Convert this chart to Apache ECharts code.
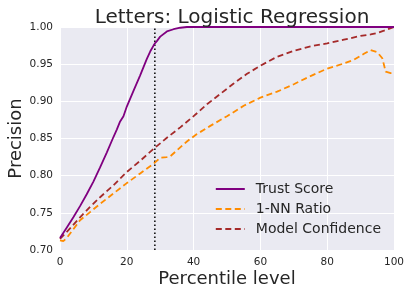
<!DOCTYPE html>
<html><head><meta charset="utf-8">
<script src="https://cdn.jsdelivr.net/npm/echarts@6/dist/echarts.min.js"></script>
<style>html,body{margin:0;padding:0;background:#fff}#c{width:410px;height:297px}</style>
</head><body><div id="c"></div>
<script>
const trustX = [0,2,4,6,8,10,12,14,16,17,18,19,20,22,24,26,27,28,28.4,29,30,32,34,36,38,40,60,80,100];
const trustY = [0.716,0.730,0.744,0.759,0.775,0.792,0.811,0.831,0.852,0.862,0.873,0.880,0.893,0.914,0.935,0.957,0.967,0.975,0.978,0.981,0.987,0.994,0.997,0.999,1.0,1.0,1.0,1.0,1.0];
const nnX = [0,1,2,4,6,9,12,16,20,24,28,30,32,33,35,38,41,45,50,55,60,65,70,75,80,85,88,91,93,95,96.5,97.5,99,100];
const nnY = [0.713,0.712,0.716,0.728,0.740,0.751,0.762,0.776,0.790,0.803,0.816,0.824,0.825,0.826,0.834,0.846,0.856,0.867,0.880,0.894,0.905,0.913,0.923,0.934,0.944,0.951,0.956,0.964,0.969,0.966,0.958,0.940,0.938,0.938];
const mcX = [0,3,6,9,12,16,20,24,28,32,36,40,44,48,52,56,60,65,70,75,80,85,90,93,95,97,100];
const mcY = [0.715,0.729,0.744,0.758,0.771,0.787,0.805,0.820,0.836,0.851,0.865,0.880,0.896,0.910,0.924,0.937,0.948,0.960,0.968,0.974,0.978,0.983,0.988,0.990,0.992,0.995,1.0];
const cutoffX = [28.4, 28.4];
const cutoffY = [0.70, 1.00];
const xTicks = [0,20,40,60,80,100];
const yTicks = [0.70,0.75,0.80,0.85,0.90,0.95,1.00];
const names = ['Trust Score','1-NN Ratio','Model Confidence'];

const zip = (a,b) => a.map((v,i)=>[v,b[i]]);
const font = 'DejaVu Sans';
const chart = echarts.init(document.getElementById('c'));
chart.setOption({
  animation:false,
  backgroundColor:'#fff',
  title:{text:'Letters: Logistic Regression',left:227,top:3,textAlign:'center',
    textStyle:{fontFamily:font,fontSize:20,fontWeight:'normal',color:'#262626'}},
  grid:{left:60,right:16,top:27,bottom:47,show:true,backgroundColor:'#eaeaf2',borderWidth:0,
    containLabel:false,outerBoundsMode:'none'},
  xAxis:{type:'value',min:0,max:100,interval:20,
    name:'Percentile level',nameLocation:'middle',nameGap:20,nameMoveOverlap:false,
    nameTextStyle:{fontFamily:font,fontSize:18,color:'#262626'},
    axisLine:{show:false},axisTick:{show:false},
    axisLabel:{fontFamily:font,fontSize:10.5,color:'#262626',margin:7},
    splitLine:{lineStyle:{color:'#fff',width:1}}},
  yAxis:{type:'value',min:0.70,max:1.00,interval:0.05,
    name:'Precision',nameLocation:'middle',nameGap:35,nameMoveOverlap:false,
    nameTextStyle:{fontFamily:font,fontSize:18,color:'#262626'},
    axisLine:{show:false},axisTick:{show:false},
    axisLabel:{fontFamily:font,fontSize:10.5,color:'#262626',margin:7,formatter:v=>v.toFixed(2)},
    splitLine:{lineStyle:{color:'#fff',width:1}}},
  legend:{data:names,orient:'vertical',right:24,top:177,itemWidth:29,itemHeight:10,itemGap:6,
    itemStyle:{color:'rgba(0,0,0,0)',borderWidth:0,borderColor:'rgba(0,0,0,0)'},
    lineStyle:{width:2},
    textStyle:{fontFamily:font,fontSize:14,color:'#262626',padding:[0,0,0,6]}},
  series:[
    {name:names[0],type:'line',data:zip(trustX,trustY),symbol:'none',z:5,
      lineStyle:{color:'#800080',width:1.8},itemStyle:{color:'#800080'}},
    {name:names[1],type:'line',data:zip(nnX,nnY),symbol:'none',z:4,
      lineStyle:{color:'#ff8c00',width:1.8,type:[6,3.5]},itemStyle:{color:'#ff8c00'}},
    {name:names[2],type:'line',data:zip(mcX,mcY),symbol:'none',z:3,
      lineStyle:{color:'#a52a2a',width:1.8,type:[6,3.5]},itemStyle:{color:'#a52a2a'}},
    {name:'cutoff',type:'line',data:zip(cutoffX,cutoffY),symbol:'none',z:2,
      lineStyle:{color:'#000',width:1.5,type:[1.5,2.5]}}
  ]
});
</script></body></html>
